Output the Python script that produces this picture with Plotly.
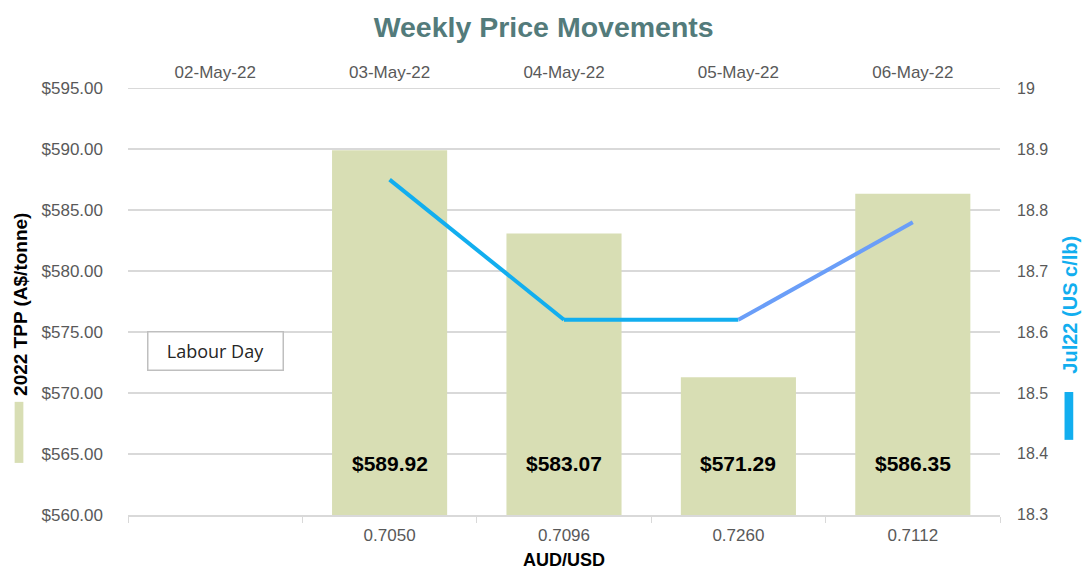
import plotly.graph_objects as go

dates = ["02-May-22", "03-May-22", "04-May-22", "05-May-22", "06-May-22"]
aud_usd = ["", "0.7050", "0.7096", "0.7260", "0.7112"]
tpp = [None, 589.92, 583.07, 571.29, 586.35]
tpp_labels = ["", "$589.92", "$583.07", "$571.29", "$586.35"]
jul22 = [None, 18.85, 18.62, 18.62, 18.78]
segment_colors = ["#12AEEF", "#12AEEF", "#12AEEF", "#6A9EF8"]
note_text = "Labour Day"

left_ticks = [560, 565, 570, 575, 580, 585, 590, 595]
right_ticks = [18.3, 18.4, 18.5, 18.6, 18.7, 18.8, 18.9, 19.0]

FONT = "Liberation Sans"
TICKC = "#595959"
GRID = "#D9D9D9"
BLUE = "#12AEEF"

fig = go.Figure()
fig.add_trace(go.Bar(
    x=dates, y=tpp, marker=dict(color="#D8DEB4", line=dict(width=0)),
    width=0.66, xaxis="x", yaxis="y", showlegend=False, hoverinfo="y",
))
for i in range(len(dates) - 1):
    if jul22[i] is None or jul22[i + 1] is None:
        continue
    fig.add_trace(go.Scatter(
        x=dates[i:i + 2], y=jul22[i:i + 2], mode="lines",
        line=dict(color=segment_colors[i], width=4),
        xaxis="x2", yaxis="y2", showlegend=False,
    ))

annotations = []
for d, lab in zip(dates, tpp_labels):
    if lab:
        annotations.append(dict(x=d, y=564.2, xref="x", yref="y", text=lab, showarrow=False,
                                font=dict(family=FONT, size=21, color="#000000", weight="bold")))
annotations.append(dict(x=dates[0], y=573.4, xref="x", yref="y", text=note_text, showarrow=False,
                        font=dict(family="Open Sans", size=18, color="#262626"),
                        width=130, height=33, borderpad=2,
                        bordercolor="#BFBFBF", borderwidth=1.5, bgcolor="white"))
annotations.append(dict(x=-0.124, y=0.494, xref="paper", yref="paper", xanchor="center", yanchor="middle",
                        text="<b>2022 TPP (A$/tonne)</b>",
                        textangle=-90, showarrow=False, font=dict(family=FONT, size=19, color="#000000")))
annotations.append(dict(x=1.080, y=0.492, xref="paper", yref="paper", xanchor="center", yanchor="middle",
                        text="<b>Jul22 (US c/lb)</b>",
                        textangle=-90, showarrow=False, font=dict(family=FONT, size=20, color=BLUE)))
annotations.append(dict(x=0.5, y=-0.106, xref="paper", yref="paper", yanchor="middle", text="<b>AUD/USD</b>",
                        showarrow=False,
                        font=dict(family="Liberation Sans Narrow, Liberation Sans", size=18, color="#000000")))

shapes = [
    dict(type="rect", xref="paper", yref="paper", x0=-0.130, x1=-0.120, y0=0.122, y1=0.265,
         fillcolor="#D8DEB4", line=dict(width=0)),
    dict(type="rect", xref="paper", yref="paper", x0=1.074, x1=1.084, y0=0.176, y1=0.288,
         fillcolor=BLUE, line=dict(width=0)),
    # top gridline (plotly drops the gridline sitting on the range edge)
    dict(type="line", xref="paper", yref="y", x0=0, x1=1, y0=max(left_ticks), y1=max(left_ticks),
         line=dict(color=GRID, width=1.5), layer="below"),
]

fig.update_layout(
    width=1083, height=571,
    margin=dict(l=128, r=83, t=88, b=56, autoexpand=False),
    paper_bgcolor="white", plot_bgcolor="white",
    font=dict(family=FONT, size=16, color=TICKC),
    title=dict(text="<b>Weekly Price Movements</b>", x=0.502, xanchor="center", xref="container",
               y=0.953, yanchor="middle", yref="container",
               font=dict(family=FONT, size=28.5, color="#537B7B")),
    annotations=annotations, shapes=shapes,
    xaxis=dict(type="category", categoryorder="array", categoryarray=dates, range=[-0.5, 4.5],
               tickvals=dates, ticktext=aud_usd, tickfont=dict(size=17, color=TICKC),
               showline=True, linecolor=GRID, linewidth=1.5, ticks="outside", tickson="boundaries",
               ticklen=6, tickcolor=GRID, showgrid=False, fixedrange=True, ticklabelstandoff=4),
    xaxis2=dict(type="category", categoryorder="array", categoryarray=dates, range=[-0.5, 4.5],
                overlaying="x", side="top", anchor="y", tickvals=dates, ticktext=dates,
                tickfont=dict(size=17, color=TICKC), showline=False, ticks="", showgrid=False,
                ticklabelstandoff=6),
    yaxis=dict(range=[559.98, 595.02], tickvals=left_ticks, ticktext=[f"${v:.2f}" for v in left_ticks],
               tickfont=dict(size=17, color=TICKC), showgrid=True, gridcolor=GRID, gridwidth=1.5,
               zeroline=False, showline=False, ticks="", ticklabelstandoff=24),
    yaxis2=dict(range=[18.2996, 19.0004], overlaying="y", side="right", anchor="x", tickvals=right_ticks,
                ticktext=[f"{v:g}" for v in right_ticks], tickfont=dict(size=16, color=TICKC),
                showgrid=False, zeroline=False, showline=False, ticks="", ticklabelstandoff=16),
)

fig.write_html("out.html", config={"displayModeBar": False},
               post_script="document.body.style.margin='0px';")
